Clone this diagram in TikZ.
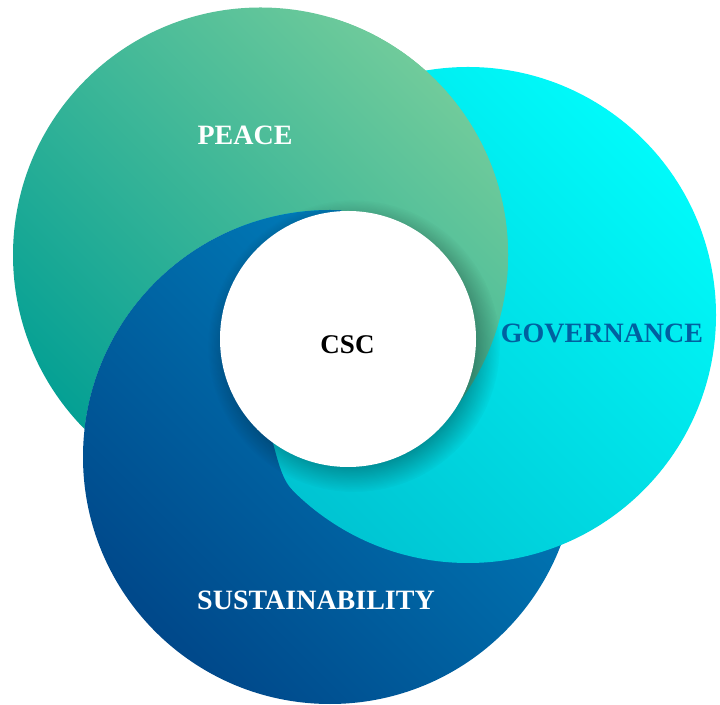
\documentclass[tikz,border=0pt]{standalone}
\usepackage{fontspec}
\setmainfont{Liberation Serif}
\usepackage{xcolor}
\usetikzlibrary{fadings}

\definecolor{peaceA}{RGB}{4,160,148}
\definecolor{peaceB}{RGB}{112,203,155}
\definecolor{govA}{RGB}{0,196,210}
\definecolor{govB}{RGB}{0,250,250}
\definecolor{susA}{RGB}{0,72,138}
\definecolor{susB}{RGB}{0,132,192}
\definecolor{govtext}{RGB}{0,96,160}

% soft fading for the shadow of the centre disc
\pgfdeclareradialshading{cscshade}{\pgfpointorigin}{color(0bp)=(pgftransparent!0); color(17bp)=(pgftransparent!0); color(25bp)=(pgftransparent!100); color(50bp)=(pgftransparent!100)}
\pgfdeclarefading{cscfade}{\pgfuseshading{cscshade}}

\tikzset{
  peacefill/.style={top color=peaceB, bottom color=peaceA, shading angle=-45},
  govfill/.style={top color=govB, bottom color=govA, shading angle=-45},
  susfill/.style={top color=susB, bottom color=susA, shading angle=-45},
  lbl/.style={font=\bfseries\fontsize{28}{30}\selectfont, inner sep=0pt},
}
% circles of the swirl
\newcommand{\peacering}{(pc) circle[radius=247.5pt]}
\newcommand{\govring}{(gc) circle[radius=248pt]}
\newcommand{\susring}{(sc) circle[radius=247pt]}

\begin{document}
\begin{tikzpicture}[x=1pt,y=1pt]
\useasboundingbox[fill=white] (0,0) rectangle (720,704);

\coordinate (pc) at (260.5,449);
\coordinate (gc) at (468,389);
\coordinate (sc) at (330,247);
\coordinate (cc) at (348,365);
\coordinate (tip) at (272.8,261.4); % where governance meets the centre disc
\coordinate (join) at (292,214.3);

% sustainability at the bottom
\shade[susfill] \susring;
% governance over sustainability
\shade[govfill] \govring;
% trim the governance tip
\begin{scope}
  \clip (tip) .. controls (277,247) and (281.4,225) .. (join) -- (240,164) -- (180,254) -- cycle;
  \shade[susfill] \susring;
\end{scope}
% peace over governance: outside sustainability ...
\begin{scope}[even odd rule]
  \clip \peacering;
  \clip (0,0) rectangle (720,704) \susring;
  \shade[peacefill] \peacering;
\end{scope}
% ... and in its own sector round the centre
\begin{scope}
  \clip (cc) -- ++(-30:900) arc[start angle=-30, end angle=93, radius=900] -- cycle;
  \shade[peacefill] \peacering;
\end{scope}
% sustainability over peace in its sector
\begin{scope}
  \clip \peacering;
  \clip (cc) -- ++(93:900) arc[start angle=93, end angle=234, radius=900] -- cycle;
  \shade[susfill] \susring;
\end{scope}

% centre disc with its shadow
\fill[black, opacity=0.5, path fading=cscfade] ([shift={(6,-7)}]cc) circle[radius=146pt];
\fill[white] (cc) circle[radius=128pt];

\node[lbl, text=white] (peace) at (245,569) {PEACE};
\node[lbl, text=govtext] (gov) at (602,371) {GOVERNANCE};
\node[lbl, text=white] (sus) at (316,104) {SUSTAINABILITY};
\node[lbl, text=black, font=\bfseries\fontsize{27}{29}\selectfont] (csc) at (347.5,359) {CSC};
\end{tikzpicture}
\end{document}
